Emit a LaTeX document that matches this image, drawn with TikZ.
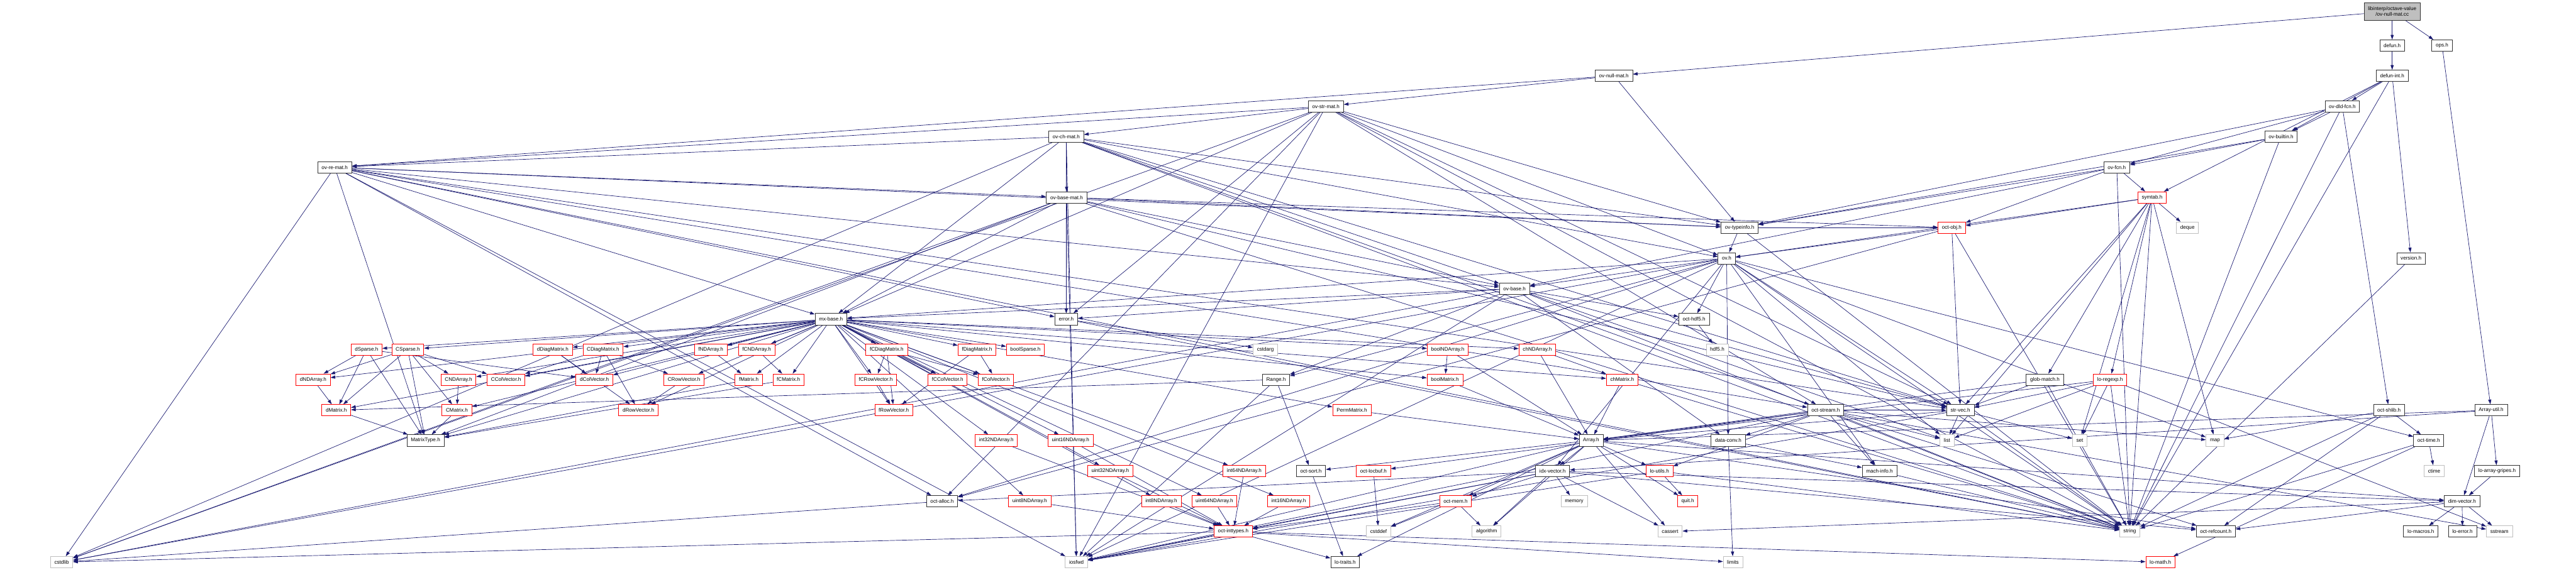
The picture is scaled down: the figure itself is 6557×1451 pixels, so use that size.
\documentclass[tikz,border=0pt]{standalone}
\usepackage{fontspec}
\setmainfont{Liberation Sans}
\usetikzlibrary{arrows.meta,backgrounds}
\definecolor{edgeblue}{HTML}{191970}
\definecolor{sysgray}{HTML}{BFBFBF}
\begin{document}
\begin{tikzpicture}[x=1pt,y=-1pt,
    box/.style={draw,fill=white,line width=1.3pt,minimum height=29pt,inner xsep=10pt,inner ysep=2pt,font=\fontsize{13}{15}\selectfont},
    doc/.style={box,draw=black!80},
    part/.style={box,draw=red},
    sys/.style={box,draw=sysgray},
    rootbox/.style={box,fill=sysgray,draw=black!80,align=center,minimum height=45pt},
    dep/.style={draw=edgeblue,line width=1.1pt,-{Triangle[length=12pt,width=8pt]}}]
  \useasboundingbox (0,0) rectangle (6557,1451);
  \node[rootbox] (nullmatcc) at (6089,29) {libinterp/octave-value\\/ov-null-mat.cc};
  \node[doc]  (defun)      at (6089,116)  {defun.h};
  \node[doc]  (ops)        at (6216,116)  {ops.h};
  \node[doc]  (ovnullmat)  at (4108,193)  {ov-null-mat.h};
  \node[doc]  (defunint)   at (6089,193)  {defun-int.h};
  \node[doc]  (ovstrmat)   at (3375,271)  {ov-str-mat.h};
  \node[doc]  (ovdldfcn)   at (5962,271)  {ov-dld-fcn.h};
  \node[doc]  (ovchmat)    at (2714,348)  {ov-ch-mat.h};
  \node[doc]  (ovbuiltin)  at (5806,348)  {ov-builtin.h};
  \node[doc]  (ovremat)    at (852,426)   {ov-re-mat.h};
  \node[doc]  (ovfcn)      at (5388,426)  {ov-fcn.h};
  \node[doc]  (ovbasemat)  at (2715,503)  {ov-base-mat.h};
  \node[part] (symtab)     at (5478,503)  {symtab.h};
  \node[doc]  (ovtypeinfo) at (4428,580)  {ov-typeinfo.h};
  \node[part] (octobj)     at (4968,580)  {oct-obj.h};
  \node[sys]  (deque)      at (5568,580)  {deque};
  \node[doc]  (ov)         at (4395,658)  {ov.h};
  \node[doc]  (version)    at (6137,658)  {version.h};
  \node[doc]  (ovbase)     at (3855,735)  {ov-base.h};
  \node[doc]  (mxbase)     at (2115,813)  {mx-base.h};
  \node[doc]  (error)      at (2714,813)  {error.h};
  \node[doc]  (octhdf)     at (4312,813)  {oct-hdf5.h};
  \node[part] (dsparse)    at (933,890)   {dSparse.h};
  \node[part] (csparse)    at (1038,890)  {CSparse.h};
  \node[part] (ddiag)      at (1407,890)  {dDiagMatrix.h};
  \node[part] (cdiag)      at (1535,890)  {CDiagMatrix.h};
  \node[part] (fnd)        at (1809,890)  {fNDArray.h};
  \node[part] (fcnd)       at (1926,890)  {fCNDArray.h};
  \node[part] (fcdiag)     at (2257,890)  {fCDiagMatrix.h};
  \node[part] (fdiag)      at (2487,890)  {fDiagMatrix.h};
  \node[part] (boolsparse) at (2610,890)  {boolSparse.h};
  \node[sys]  (cstdarg)    at (3221,890)  {cstdarg};
  \node[part] (boolnd)     at (3685,890)  {boolNDArray.h};
  \node[part] (chnd)       at (3913,890)  {chNDArray.h};
  \node[sys]  (hdf)        at (4371,890)  {hdf5.h};
  \node[part] (dnd)        at (797,967)   {dNDArray.h};
  \node[part] (cnd)        at (1167,967)  {CNDArray.h};
  \node[part] (ccol)       at (1288,967)  {CColVector.h};
  \node[part] (dcol)       at (1513,967)  {dColVector.h};
  \node[part] (crow)       at (1741,967)  {CRowVector.h};
  \node[part] (fmat)       at (1906,967)  {fMatrix.h};
  \node[part] (fcmat)      at (2007,967)  {fCMatrix.h};
  \node[part] (fcrow)      at (2229,967)  {fCRowVector.h};
  \node[part] (fccol)      at (2412,967)  {fCColVector.h};
  \node[part] (fcol)       at (2535,967)  {fColVector.h};
  \node[doc]  (range)      at (3248,967)  {Range.h};
  \node[part] (boolmat)    at (3678,967)  {boolMatrix.h};
  \node[part] (chmat)      at (4129,967)  {chMatrix.h};
  \node[doc]  (globmatch)  at (5205,967)  {glob-match.h};
  \node[part] (loregexp)   at (5371,967)  {lo-regexp.h};
  \node[part] (dmat)       at (856,1045)  {dMatrix.h};
  \node[part] (cmat)       at (1163,1045) {CMatrix.h};
  \node[part] (drow)       at (1625,1045) {dRowVector.h};
  \node[part] (frow)       at (2275,1045) {fRowVector.h};
  \node[part] (permmat)    at (3441,1045) {PermMatrix.h};
  \node[doc]  (octstream)  at (4647,1045) {oct-stream.h};
  \node[doc]  (strvec)     at (4990,1045) {str-vec.h};
  \node[doc]  (octshlib)   at (6081,1045) {oct-shlib.h};
  \node[doc]  (arrayutil)  at (6341,1045) {Array-util.h};
  \node[doc]  (mattype)    at (1083,1122) {MatrixType.h};
  \node[part] (int32)      at (2536,1122) {int32NDArray.h};
  \node[part] (uint16)     at (2725,1122) {uint16NDArray.h};
  \node[doc]  (array)      at (4050,1122) {Array.h};
  \node[doc]  (dataconv)   at (4399,1122) {data-conv.h};
  \node[sys]  (list)       at (4956,1122) {list};
  \node[sys]  (set)        at (5294,1122) {set};
  \node[sys]  (map)        at (5638,1122) {map};
  \node[doc]  (octtime)    at (6182,1122) {oct-time.h};
  \node[part] (uint32)     at (2826,1200) {uint32NDArray.h};
  \node[part] (int64)      at (3167,1200) {int64NDArray.h};
  \node[doc]  (octsort)    at (3337,1200) {oct-sort.h};
  \node[part] (octlocbuf)  at (3496,1200) {oct-locbuf.h};
  \node[doc]  (idxvec)     at (3952,1200) {idx-vector.h};
  \node[part] (loutils)    at (4224,1200) {lo-utils.h};
  \node[doc]  (machinfo)   at (4784,1200) {mach-info.h};
  \node[sys]  (ctime)      at (6196,1200) {ctime};
  \node[doc]  (lagripes)   at (6356,1200) {lo-array-gripes.h};
  \node[doc]  (octalloc)   at (2398,1277) {oct-alloc.h};
  \node[part] (uint8)      at (2621,1277) {uint8NDArray.h};
  \node[part] (int8)       at (2956,1277) {int8NDArray.h};
  \node[part] (uint64)     at (3091,1277) {uint64NDArray.h};
  \node[part] (int16)      at (3280,1277) {int16NDArray.h};
  \node[part] (octmem)     at (3705,1277) {oct-mem.h};
  \node[sys]  (memory)     at (4007,1277) {memory};
  \node[part] (quit)       at (4296,1277) {quit.h};
  \node[doc]  (dimvec)     at (6267,1277) {dim-vector.h};
  \node[part] (inttypes)   at (3139,1354) {oct-inttypes.h};
  \node[sys]  (cstddef)    at (3509,1354) {cstddef};
  \node[sys]  (algorithm)  at (3784,1354) {algorithm};
  \node[sys]  (cassert)    at (4251,1354) {cassert};
  \node[sys]  (string)     at (5421,1354) {string};
  \node[doc]  (refcount)   at (5640,1354) {oct-refcount.h};
  \node[doc]  (lomacros)   at (6162,1354) {lo-macros.h};
  \node[doc]  (loerror)    at (6268,1354) {lo-error.h};
  \node[sys]  (sstream)    at (6362,1354) {sstream};
  \node[sys]  (cstdlib)    at (157,1432)  {cstdlib};
  \node[sys]  (iosfwd)     at (2740,1432) {iosfwd};
  \node[doc]  (lotraits)   at (3424,1432) {lo-traits.h};
  \node[sys]  (limits)     at (4411,1432) {limits};
  \node[part] (lomath)     at (5499,1432) {lo-math.h};
  \begin{scope}[on background layer]
  \foreach \s/\ts in {nullmatcc/{ovnullmat,defun,ops},
      defun/{defunint}, ops/{arrayutil},
      defunint/{ovdldfcn,ovbuiltin,symtab,version,string},
      ovdldfcn/{ovbuiltin,ovfcn,octshlib,ovtypeinfo,string},
      ovbuiltin/{ovfcn,ovtypeinfo,string},
      ovfcn/{symtab,octobj,ovtypeinfo,ovbase,string},
      symtab/{deque,octobj,ov,globmatch,loregexp,list,map,set,string,strvec},
      version/{string},
      ovnullmat/{ovremat,ovstrmat,ovtypeinfo},
      ovstrmat/{ovchmat,ovremat,ovtypeinfo,ov,mxbase,strvec,error,octalloc,octstream,cstdlib,iosfwd,string},
      ovchmat/{ovbasemat,ovbase,ovremat,ovtypeinfo,ov,mxbase,strvec,error,octstream,cstdlib,iosfwd,string},
      ovremat/{ovbasemat,ovbase,ovtypeinfo,mxbase,octalloc,strvec,error,octstream,mattype,cstdlib,iosfwd,string},
      ovbasemat/{ovbase,ovtypeinfo,octobj,mxbase,strvec,mattype,error,cstdlib,iosfwd,string},
      ovtypeinfo/{octobj,ov,string},
      octobj/{ov,octalloc,strvec,string},
      ov/{ovbase,range,dataconv,idxvec,machinfo,mxbase,octalloc,octtime,strvec,octhdf,cstdlib,iosfwd,string,list,map},
      ovbase/{range,dataconv,mxbase,strvec,error,octhdf,cstdlib,iosfwd,list,string},
      mxbase/{mattype,boolmat,boolnd,chmat,chnd,dcol,drow,dmat,dnd,ddiag,ccol,crow,cmat,cnd,cdiag,fcol,frow,fmat,fnd,fdiag,fccol,fcrow,fcmat,fcnd,fcdiag,int8,int16,int32,int64,uint8,uint16,uint32,uint64,boolsparse,dsparse,csparse,permmat},
      error/{cstdarg,string}, octhdf/{hdf},
      range/{iosfwd,dmat,octsort},
      dsparse/{dmat,dnd,dcol,mattype},
      csparse/{dmat,dnd,cmat,cnd,ccol,mattype},
      dnd/{dmat}, dmat/{mattype}, cnd/{cmat}, cmat/{mattype},
      ddiag/{dcol,drow}, cdiag/{ccol,crow,dcol,drow}, crow/{drow},
      fnd/{fmat}, fcnd/{fcmat}, fmat/{mattype}, fcmat/{mattype},
      fcdiag/{fccol,fcrow,fcol,frow}, fdiag/{fcol,frow}, fcrow/{frow},
      boolnd/{boolmat,array}, boolmat/{array}, chnd/{chmat,array}, chmat/{array,string}, permmat/{array},
      int8/{inttypes}, int16/{inttypes}, int32/{inttypes}, int64/{inttypes},
      uint8/{inttypes}, uint16/{inttypes}, uint32/{inttypes}, uint64/{inttypes},
      octalloc/{cstdlib},
      strvec/{iosfwd,list,set,string,array},
      globmatch/{string,strvec,array},
      loregexp/{list,set,string,sstream,array,strvec},
      octstream/{iosfwd,sstream,string,list,map,array,dataconv,loutils,machinfo,octlocbuf,refcount,strvec},
      octshlib/{string,map,octtime,refcount},
      octtime/{ctime,string,lomath},
      arrayutil/{array,dimvec,idxvec,lagripes},
      lagripes/{dimvec},
      dimvec/{cassert,sstream,loerror,lomacros,refcount},
      array/{cassert,cstddef,algorithm,iosfwd,dimvec,idxvec,lotraits,loutils,octsort,quit,octmem,refcount},
      idxvec/{cassert,algorithm,iosfwd,memory,dimvec,inttypes,octalloc,octmem,refcount},
      octsort/{lotraits}, octlocbuf/{cstddef},
      octmem/{cstddef,algorithm,inttypes},
      loutils/{iosfwd,string,quit},
      dataconv/{limits,machinfo}, machinfo/{string},
      inttypes/{cstdlib,limits,iosfwd,lotraits,lomath}}
    \foreach \t in \ts
      \draw[dep] (\s) -- (\t);
  \end{scope}
\end{tikzpicture}
\end{document}
